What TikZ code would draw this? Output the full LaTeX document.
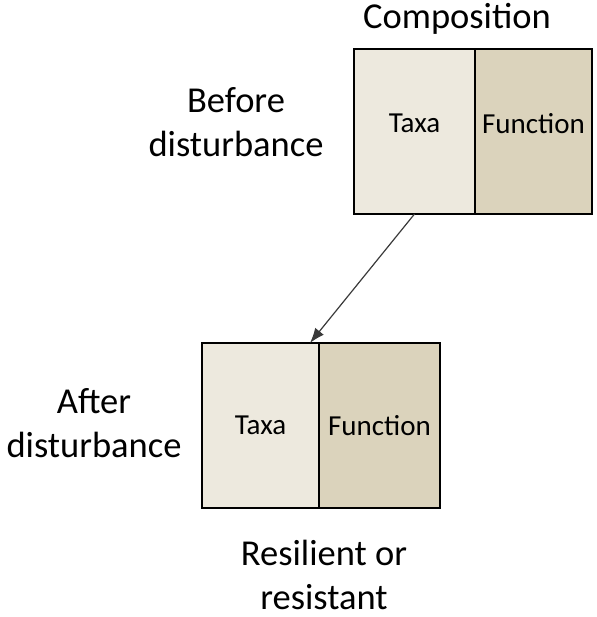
\documentclass[tikz,border=0pt]{standalone}
\usepackage{fontspec}
\setmainfont{Carlito}
\usetikzlibrary{arrows.meta,positioning}
\definecolor{taxafill}{HTML}{EDE9DE}
\definecolor{funcfill}{HTML}{DBD3BC}
\definecolor{arrowgrey}{HTML}{3A3A3A}

\begin{document}
\begin{tikzpicture}[
    x=1pt, y=-1pt,
    font=\rmfamily,
    >={Latex[length=15pt,width=11pt]},
    cell/.style={draw=black, line width=2.4pt, minimum height=165pt,
                 inner sep=0pt, outer sep=0pt,
                 font=\rmfamily\fontsize{29}{35}\selectfont},
    taxacell/.style={cell, fill=taxafill, minimum width=121pt},
    funccell/.style={cell, fill=funcfill, minimum width=117pt},
    lbl/.style={align=center, inner sep=0pt,
                font=\rmfamily\fontsize{36.5}{44}\selectfont},
    change/.style={draw=arrowgrey, line width=1.2pt, ->},
  ]
  \useasboundingbox (0,0) rectangle (596,617);

  % Community before the disturbance.
  \node[lbl, anchor=base] (comp) at (457,29) {Composition};
  \node[taxacell, text depth=16pt] (taxa1) at (414.5,131.5) {Taxa};
  \node[funccell, text depth=16pt, anchor=west] (func1) at (taxa1.east) {Function};
  \node[lbl] (before) at (236,122) {Before\\disturbance};

  % Community after the disturbance.
  \node[taxacell, minimum width=117pt] (taxa2) at (260.5,425.5) {Taxa};
  \node[funccell, minimum width=121pt, anchor=west] (func2) at (taxa2.east) {Function};
  \node[lbl] (after) at (94,423) {After\\disturbance};
  \node[lbl] (outcome) at (324,575) {Resilient or\\resistant};

  \draw[change] (taxa1.south) -- ([xshift=-9pt]taxa2.north east);
\end{tikzpicture}
\end{document}
